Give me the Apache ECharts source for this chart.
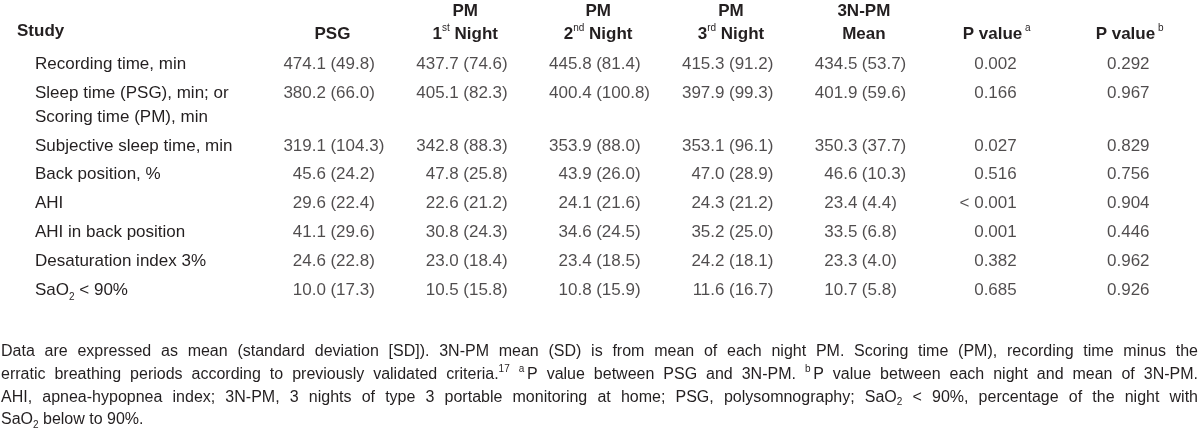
<!DOCTYPE html>
<html>
<head>
<meta charset="utf-8">
<script src="https://cdn.jsdelivr.net/npm/echarts@6/dist/echarts.min.js"></script>
<style>html,body{margin:0;padding:0;background:#fff}#c{width:1200px;height:439px}</style>
</head>
<body>
<div id="c"></div>
<script>
// ---------- data ----------
const columns = ['PSG', 'PM\n1{sup|st} Night', 'PM\n2{sup|nd} Night', 'PM\n3{sup|rd} Night', '3N-PM\nMean', 'P value{sup|\u00a0a}', 'P value{sup|\u00a0b}'];
const rows = [
  'Recording time, min',
  'Sleep time (PSG), min; or\nScoring time (PM), min',
  'Subjective sleep time, min',
  'Back position, %',
  'AHI',
  'AHI in back position',
  'Desaturation index 3%',
  'SaO{sub|2} < 90%'
];
const psgMean  = [474.1, 380.2, 319.1, 45.6, 29.6, 41.1, 24.6, 10.0];
const psgSD    = [49.8, 66.0, 104.3, 24.2, 22.4, 29.6, 22.8, 17.3];
const night1Mean = [437.7, 405.1, 342.8, 47.8, 22.6, 30.8, 23.0, 10.5];
const night1SD   = [74.6, 82.3, 88.3, 25.8, 21.2, 24.3, 18.4, 15.8];
const night2Mean = [445.8, 400.4, 353.9, 43.9, 24.1, 34.6, 23.4, 10.8];
const night2SD   = [81.4, 100.8, 88.0, 26.0, 21.6, 24.5, 18.5, 15.9];
const night3Mean = [415.3, 397.9, 353.1, 47.0, 24.3, 35.2, 24.2, 11.6];
const night3SD   = [91.2, 99.3, 96.1, 28.9, 21.2, 25.0, 18.1, 16.7];
const pmMean   = [434.5, 401.9, 350.3, 46.6, 23.4, 33.5, 23.3, 10.7];
const pmSD     = [53.7, 59.6, 37.7, 10.3, 4.4, 6.8, 4.0, 5.8];
const pValueA  = ['0.002', '0.166', '0.027', '0.516', '< 0.001', '0.001', '0.382', '0.685'];
const pValueB  = ['0.292', '0.967', '0.829', '0.756', '0.904', '0.446', '0.962', '0.926'];
const rowHeader = 'Study';
const footnote = [
  'Data are expressed as mean (standard deviation [SD]). 3N-PM mean (SD) is from mean of each night PM. Scoring time (PM), recording time minus the',
  'erratic breathing periods according to previously validated criteria.{sup|17} {sup|a\u00a0}P value between PSG and 3N-PM. {sup|b\u00a0}P value between each night and mean of 3N-PM.',
  'AHI, apnea-hypopnea index; 3N-PM, 3 nights of type 3 portable monitoring at home; PSG, polysomnography; SaO{sub|2} < 90%, percentage of the night with',
  'SaO{sub|2} below to 90%.'
];

// ---------- layout / style ----------
const FONT = 'Liberation Sans';
const INK = '#231f20';
const ROW_PX = 29.5;
const EXTRA_LINE = 0.83;
const GRID_TOP = 44;

const rowPos = [], labelPos = [];
(function () {
  let p = 0;
  rows.forEach(r => {
    const n = r.split('\n').length;
    rowPos.push(p);
    labelPos.push(p + (n - 1) * EXTRA_LINE / 2);
    p += 1 + (n - 1) * EXTRA_LINE;
  });
})();
const yMin = -0.5;
const yMax = rowPos[rowPos.length - 1] + 0.5;

const meanCols = [psgMean, night1Mean, night2Mean, night3Mean, pmMean];
const sdCols = [psgSD, night1SD, night2SD, night3SD, pmSD];
const meanData = [], sdData = [], pData = [];
meanCols.forEach((arr, c) => arr.forEach((v, i) => meanData.push([c, rowPos[i], v.toFixed(1)])));
sdCols.forEach((arr, c) => arr.forEach((v, i) => sdData.push([c, rowPos[i], '(' + v.toFixed(1) + ')'])));
pValueA.forEach((v, i) => pData.push([5, rowPos[i], v]));
pValueB.forEach((v, i) => pData.push([6, rowPos[i], v]));

const cellLabel = (pos, align) => ({
  show: true, position: pos, align: align, verticalAlign: 'middle',
  fontFamily: FONT, fontSize: 17, color: INK,
  formatter: p => p.value[2]
});

// ---------- footnote (justified) ----------
const mctx = document.createElement('canvas').getContext('2d');
const SEG = { n: { size: 16, dy: 0 }, sup: { size: 10, dy: -5 }, sub: { size: 10, dy: 5 } };
function segs(word) {
  const out = []; const re = /\{(\w+)\|([^}]*)\}/g; let last = 0, m;
  while ((m = re.exec(word))) {
    if (m.index > last) out.push({ t: word.slice(last, m.index), s: 'n' });
    out.push({ t: m[2], s: m[1] });
    last = re.lastIndex;
  }
  if (last < word.length) out.push({ t: word.slice(last), s: 'n' });
  return out;
}
function segW(sg) { mctx.font = SEG[sg.s].size + 'px "' + FONT + '"'; return mctx.measureText(sg.t).width; }
const FOOT_X0 = 1, FOOT_X1 = 1198, FOOT_Y0 = 352, FOOT_STEP = 22.6;
const graphics = [{
  type: 'text', x: 17, y: 31, silent: true,
  style: { text: rowHeader, font: 'bold 17px "' + FONT + '"', fill: INK, verticalAlign: 'middle', textVerticalAlign: 'middle' }
}];
footnote.forEach((line, li) => {
  const words = line.split(' ').map(w => segs(w));
  const widths = words.map(ws => ws.reduce((a, s) => a + segW(s), 0));
  const total = widths.reduce((a, b) => a + b, 0);
  const justify = li < footnote.length - 1;
  const gap = justify ? (FOOT_X1 - FOOT_X0 - total) / (words.length - 1) : segW({ t: ' ', s: 'n' });
  let x = FOOT_X0;
  const y = FOOT_Y0 + li * FOOT_STEP;
  words.forEach((ws) => {
    ws.forEach(sg => {
      graphics.push({
        type: 'text', x: x, y: y + SEG[sg.s].dy, silent: true,
        style: { text: sg.t, font: SEG[sg.s].size + 'px "' + FONT + '"', fill: INK, verticalAlign: 'middle', textVerticalAlign: 'middle' }
      });
      x += segW(sg);
    });
    x += gap;
  });
});

// ---------- chart ----------
const chart = echarts.init(document.getElementById('c'), null, { renderer: 'canvas' });
chart.setOption({
  animation: false,
  backgroundColor: '#fff',
  grid: { left: 266, right: 4, top: GRID_TOP, height: (yMax - yMin) * ROW_PX },
  xAxis: {
    type: 'category', position: 'top', data: columns,
    axisLine: { show: false }, axisTick: { show: false }, splitLine: { show: false },
    axisLabel: {
      interval: 0, margin: 4, fontFamily: FONT, fontSize: 17, fontWeight: 'bold', color: INK, lineHeight: 23,
      rich: { sup: { fontFamily: FONT, fontSize: 10, fontWeight: 'normal', color: INK, lineHeight: 12, verticalAlign: 'top' } }
    }
  },
  yAxis: {
    type: 'value', inverse: true, min: yMin, max: yMax,
    axisLine: { show: false }, axisTick: { show: false }, splitLine: { show: false },
    axisLabel: {
      customValues: labelPos, showMinLabel: true, showMaxLabel: true,
      align: 'left', margin: 231, fontFamily: FONT, fontSize: 17, color: INK, lineHeight: 24.5,
      formatter: v => { let k = 0, d = 1e9; labelPos.forEach((p, i) => { if (Math.abs(p - v) < d) { d = Math.abs(p - v); k = i; } }); return rows[k]; },
      rich: { sub: { fontFamily: FONT, fontSize: 10, color: INK, lineHeight: 10, verticalAlign: 'bottom' } }
    }
  },
  series: [
    { type: 'scatter', symbolSize: 0, silent: true, data: meanData, label: cellLabel([-6.5, 0], 'right') },
    { type: 'scatter', symbolSize: 0, silent: true, data: sdData, label: cellLabel([-2, 0], 'left') },
    { type: 'scatter', symbolSize: 0, silent: true, data: pData, label: cellLabel([20, 0], 'right') }
  ],
  graphic: { elements: graphics }
});
</script>
</body>
</html>
